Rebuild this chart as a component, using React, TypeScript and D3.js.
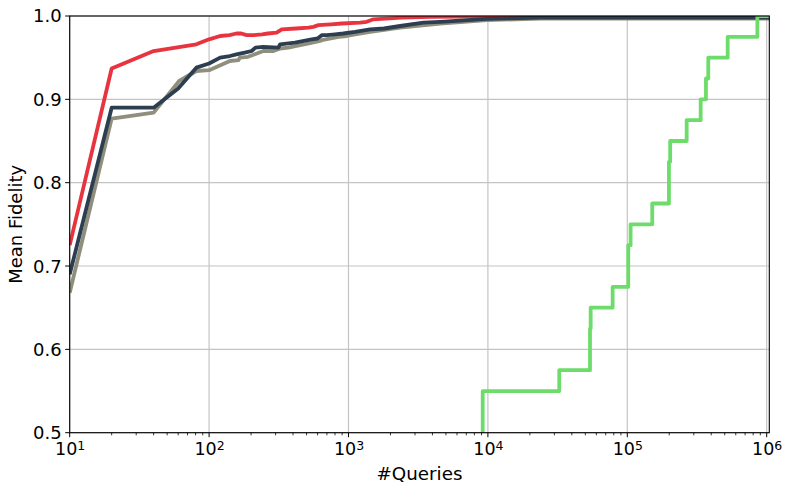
import React from "react";
import * as d3 from "d3";

// ---------- data ----------
const redSeries: [number, number][] = [
  [10, 0.725], [20, 0.937], [40, 0.958], [81, 0.966], [100, 0.972], [120, 0.976],
  [140, 0.977], [157, 0.979], [170, 0.979], [186, 0.977], [208, 0.977], [240, 0.978],
  [264, 0.979], [305, 0.98], [332, 0.984], [420, 0.985], [515, 0.986], [560, 0.987],
  [608, 0.989], [750, 0.99], [895, 0.991], [1210, 0.992], [1350, 0.993], [1510, 0.996],
  [2400, 0.998], [3900, 0.999], [10000, 0.9995], [100000, 1.0], [1044000, 1.0],
];

const navySeries: [number, number][] = [
  [10, 0.69], [20, 0.89], [40, 0.89], [60, 0.913], [81, 0.938], [100, 0.943],
  [120, 0.95], [141, 0.952], [157, 0.954], [180, 0.956], [202, 0.958], [215, 0.962],
  [245, 0.963], [314, 0.962], [323, 0.966], [413, 0.968], [545, 0.972], [600, 0.973],
  [643, 0.977], [700, 0.977], [801, 0.978], [918, 0.979], [1115, 0.981], [1430, 0.984],
  [1800, 0.985], [2350, 0.988], [3450, 0.992], [4550, 0.993], [9840, 0.9966],
  [23800, 0.998], [100000, 0.998], [1044000, 0.998],
];

const graySeries: [number, number][] = [
  [10, 0.668], [20, 0.877], [40, 0.884], [61, 0.922], [81, 0.934], [100, 0.935],
  [141, 0.946], [162, 0.947], [166, 0.95], [190, 0.951], [213, 0.954], [245, 0.958],
  [290, 0.958], [323, 0.961], [370, 0.962], [450, 0.965], [520, 0.967], [625, 0.97],
  [643, 0.971], [848, 0.975], [972, 0.976], [1115, 0.978], [1430, 0.981], [2350, 0.986],
  [4550, 0.991], [9840, 0.995], [23800, 0.997], [100000, 0.997], [1044000, 0.997],
];

const greenSeries: [number, number][] = [
  [9180, 0.5], [9180, 0.55], [32500, 0.575], [54000, 0.625], [54600, 0.65],
  [78500, 0.675], [101600, 0.725], [105600, 0.75], [151000, 0.775], [199000, 0.825],
  [203000, 0.85], [266600, 0.875], [336000, 0.9], [366700, 0.925], [381000, 0.95],
  [525000, 0.975], [857000, 1.0], [1044000, 1.0],
];

const xTickExponents = [1, 2, 3, 4, 5, 6];
const yTicks = [0.5, 0.6, 0.7, 0.8, 0.9, 1.0];
const xLabel = "#Queries";
const yLabel = "Mean Fidelity";

// ---------- layout ----------
const W = 792;
const H = 493;
const X0 = 69.7;
const X1 = 769.3;
const Y0 = 16;
const Y1 = 432.7;
const FONT = "DejaVu Sans, sans-serif";

export default function App() {
  const x = d3.scaleLog().domain([10, 1.044e6]).range([X0, X1]);
  const y = d3.scaleLinear().domain([0.5, 1.0]).range([Y1, Y0]);

  const line = d3
    .line<[number, number]>()
    .x((d) => x(d[0]))
    .y((d) => y(d[1]));
  const stepLine = d3
    .line<[number, number]>()
    .x((d) => x(d[0]))
    .y((d) => y(d[1]))
    .curve(d3.curveStepAfter);

  const minorTicks: number[] = [];
  for (let k = 1; k <= 6; k++) {
    for (let m = 2; m <= 9; m++) {
      const v = m * Math.pow(10, k);
      if (v < 1.044e6) minorTicks.push(v);
    }
  }

  const series = [
    { data: redSeries, color: "#e8343f", step: false },
    { data: graySeries, color: "#908e7c", step: false },
    { data: navySeries, color: "#2c3e50", step: false },
    { data: greenSeries, color: "#6ddc6b", step: true },
  ];

  return (
    <svg
      width={W}
      height={H}
      style={{ position: "absolute", left: 0, top: 0, background: "#fff" }}
      fontFamily={FONT}
    >
      <defs>
        <clipPath id="plotClip">
          <rect x={X0} y={Y0} width={X1 - X0} height={Y1 - Y0} />
        </clipPath>
      </defs>
      <rect x={0} y={0} width={W} height={H} fill="#fff" />

      {/* grid */}
      <g stroke="#c4c4c4" strokeWidth={1.2}>
        {xTickExponents.map((e) => (
          <line key={"gx" + e} x1={x(Math.pow(10, e))} x2={x(Math.pow(10, e))} y1={Y0} y2={Y1} />
        ))}
        {yTicks.map((t) => (
          <line key={"gy" + t} x1={X0} x2={X1} y1={y(t)} y2={y(t)} />
        ))}
      </g>

      {/* series */}
      <g clipPath="url(#plotClip)" fill="none" strokeLinejoin="round">
        {series.map((s, i) => (
          <path
            key={i}
            d={(s.step ? stepLine : line)(s.data) || ""}
            stroke={s.color}
            strokeWidth={3.8}
          />
        ))}
      </g>

      {/* spines */}
      <rect x={X0} y={Y0} width={X1 - X0} height={Y1 - Y0} fill="none" stroke="#000" strokeWidth={1.1} />

      {/* ticks */}
      <g stroke="#000" strokeWidth={1}>
        {xTickExponents.map((e) => (
          <line key={"tx" + e} x1={x(Math.pow(10, e))} x2={x(Math.pow(10, e))} y1={Y1} y2={Y1 + 4.5} />
        ))}
        {minorTicks.map((v) => (
          <line key={"mx" + v} x1={x(v)} x2={x(v)} y1={Y1} y2={Y1 + 2.6} strokeWidth={0.8} />
        ))}
        {yTicks.map((t) => (
          <line key={"ty" + t} x1={X0 - 4.5} x2={X0} y1={y(t)} y2={y(t)} />
        ))}
      </g>

      {/* x tick labels */}
      <g fill="#000" fontSize={17.5} textAnchor="middle">
        {xTickExponents.map((e) => (
          <text key={"lx" + e} x={x(Math.pow(10, e)) + 0.5} y={455}>
            10
            <tspan fontSize={12.5} dy={-5.5}>
              {e}
            </tspan>
          </text>
        ))}
      </g>

      {/* y tick labels */}
      <g fill="#000" fontSize={18} textAnchor="end">
        {yTicks.map((t) => (
          <text key={"ly" + t} x={X0 - 8} y={y(t)} dy="0.36em">
            {t.toFixed(1)}
          </text>
        ))}
      </g>

      {/* axis labels */}
      <text x={(X0 + X1) / 2} y={480} textAnchor="middle" fontSize={18.3} fill="#000">
        {xLabel}
      </text>
      <text
        transform={`translate(21.5, ${(Y0 + Y1) / 2}) rotate(-90)`}
        textAnchor="middle"
        fontSize={18}
        fill="#000"
      >
        {yLabel}
      </text>
    </svg>
  );
}
